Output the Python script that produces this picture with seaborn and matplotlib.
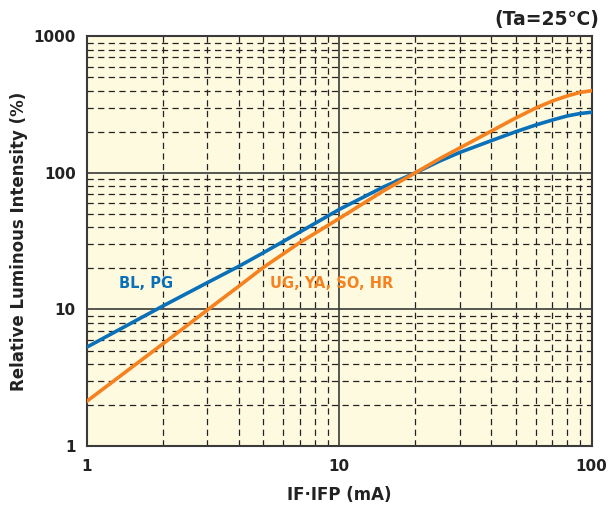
import matplotlib
matplotlib.use("Agg")
import matplotlib.pyplot as plt
import matplotlib.ticker as mticker
import numpy as np
import pandas as pd
import seaborn as sns

# Data
current_bl = [1, 2, 3, 4, 5, 7, 10, 15, 20, 25, 30, 40, 50, 60, 70, 80, 90, 100]
intensity_bl = [5.3, 10.6, 15.7, 20.7, 26.0, 37.0, 54, 79, 100, 122, 141, 172, 200, 224, 244, 261, 272, 278]
current_ug = [1, 2, 3, 4, 5, 7, 10, 15, 20, 25, 30, 40, 50, 60, 70, 80, 90, 100]
intensity_ug = [2.13, 5.6, 9.9, 14.8, 20.3, 31.0, 46.4, 74, 100, 127, 152, 202, 252, 298, 336, 366, 388, 400]
series_names = ["BL, PG", "UG, YA, SO, HR"]
x_ticks = [1, 10, 100]
y_ticks = [1, 10, 100, 1000]

df = pd.concat([
    pd.DataFrame({"IF": current_bl, "IV": intensity_bl, "series": series_names[0]}),
    pd.DataFrame({"IF": current_ug, "IV": intensity_ug, "series": series_names[1]}),
])

BLUE = "#0a70b8"
ORANGE = "#f5821f"
BG = "#fefae0"
TXT = "#222222"
FONT = ["DejaVu Sans"]

plt.rcParams["font.family"] = FONT

fig = plt.figure(figsize=(6.08, 5.07), dpi=100)
ax = fig.add_axes([0.143, 0.1203, 0.830, 0.8081])
ax.set_facecolor(BG)

sns.lineplot(data=df, x="IF", y="IV", hue="series",
             palette={series_names[0]: BLUE, series_names[1]: ORANGE},
             linewidth=2.6, ax=ax, legend=False, sort=True, zorder=5)

ax.set_xscale("log")
ax.set_yscale("log")
ax.set_xlim(1, 100)
ax.set_ylim(1, 1000)

ax.xaxis.set_major_locator(mticker.FixedLocator(x_ticks))
ax.yaxis.set_major_locator(mticker.FixedLocator(y_ticks))
ax.xaxis.set_minor_locator(mticker.LogLocator(base=10, subs=np.arange(2, 10)))
ax.yaxis.set_minor_locator(mticker.LogLocator(base=10, subs=np.arange(2, 10)))
ax.xaxis.set_major_formatter(mticker.FixedFormatter([str(v) for v in x_ticks]))
ax.yaxis.set_major_formatter(mticker.FixedFormatter([str(v) for v in y_ticks]))
ax.xaxis.set_minor_formatter(mticker.NullFormatter())
ax.yaxis.set_minor_formatter(mticker.NullFormatter())

ax.grid(which="major", color="#3a3a3a", linestyle="-", linewidth=1.2, zorder=1)
ax.grid(which="minor", color="#222222", linestyle=(0, (5, 3.5)), linewidth=0.9, zorder=1)
ax.set_axisbelow(True)

ax.tick_params(which="both", length=0)
ax.tick_params(axis="x", pad=9, labelsize=11)
ax.tick_params(axis="y", pad=8, labelsize=11)
for lab in ax.get_xticklabels() + ax.get_yticklabels():
    lab.set_fontweight("bold")
    lab.set_color(TXT)

for sp in ax.spines.values():
    sp.set_color("#3a3a3a")
    sp.set_linewidth(1.5)

ax.set_xlabel("IF·IFP (mA)", fontsize=12, fontweight="bold", color=TXT, labelpad=9)
ax.set_ylabel("Relative Luminous Intensity (%)", fontsize=12, fontweight="bold", color=TXT, labelpad=4)

ax.text(1.34, 15.6, series_names[0], color=BLUE, fontsize=10.5, fontweight="bold",
        ha="left", va="center", zorder=6)
ax.text(5.3, 15.6, series_names[1], color=ORANGE, fontsize=10.5, fontweight="bold",
        ha="left", va="center", zorder=6)

fig.text(0.986, 0.962, "(Ta=25℃)", ha="right", va="center", fontsize=13.5,
         fontweight="bold", color=TXT)

fig.savefig("out.png", dpi=100)
